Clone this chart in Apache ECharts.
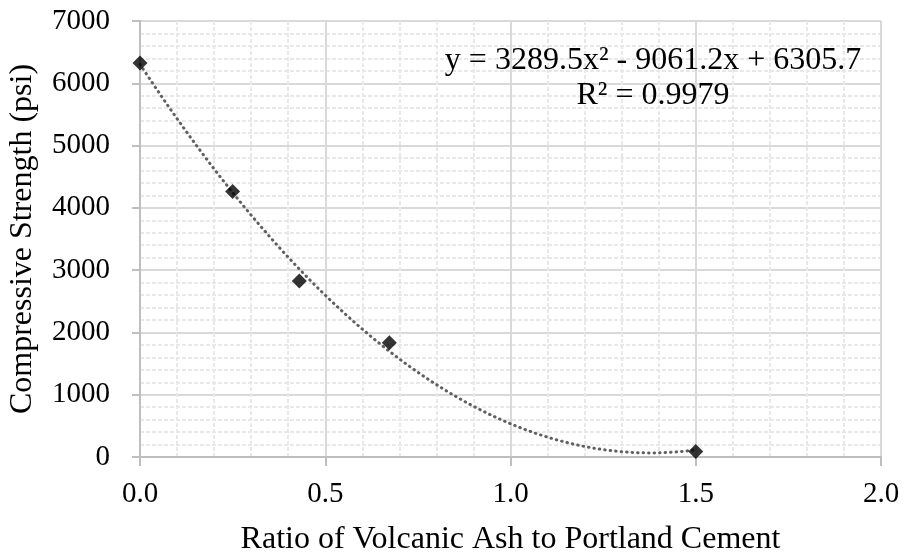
<!DOCTYPE html>
<html><head><meta charset="utf-8">
<script src="https://cdn.jsdelivr.net/npm/echarts@6/dist/echarts.min.js"></script>
<style>html,body{margin:0;padding:0;background:#fff}#c{width:907px;height:557px}</style>
</head><body><div id="c"></div>
<script>
const ratios = [0, 0.25, 0.43, 0.673, 1.5];
const strengths = [6325, 4262, 2826, 1835, 90];
const trendCoeffs = [3289.5, -9061.2, 6305.7]; // a, b, c from the chart's equation
const trendLabel = ['y = 3289.5x² - 9061.2x + 6305.7', 'R² = 0.9979'];
const xTicks = [0, 0.5, 1.0, 1.5, 2.0];
const yTicks = [0, 1000, 2000, 3000, 4000, 5000, 6000, 7000];

const trend = [];
for (let i = 0; i <= 150; i++) {
  const x = i / 100;
  trend.push([x, trendCoeffs[0]*x*x + trendCoeffs[1]*x + trendCoeffs[2]]);
}
const FONT = '"Liberation Serif","Times New Roman",serif';
const chart = echarts.init(document.getElementById('c'));
chart.setOption({
  animation: false,
  grid: {left: 140, right: 26, top: 21, bottom: 100, containLabel: false, outerBoundsMode: 'none'},
  xAxis: {
    type: 'value', min: xTicks[0], max: xTicks[xTicks.length-1], interval: 0.5,
    name: 'Ratio of Volcanic Ash to Portland Cement', nameLocation: 'middle', nameGap: 67,
    nameTextStyle: {fontFamily: FONT, fontSize: 32, color: '#000'},
    axisLine: {show: true, lineStyle: {color: '#bfbfbf', width: 2}},
    axisTick: {show: true, length: 9, lineStyle: {color: '#bfbfbf', width: 2}},
    axisLabel: {fontFamily: FONT, fontSize: 29, color: '#000', margin: 23, formatter: v => v.toFixed(1)},
    splitLine: {show: true, lineStyle: {color: '#d9d9d9', width: 2}},
    minorTick: {show: false, splitNumber: 5},
    minorSplitLine: {show: true, lineStyle: {color: '#e8e8e8', width: 2, type: [4, 2]}}
  },
  yAxis: {
    type: 'value', min: yTicks[0], max: yTicks[yTicks.length-1], interval: 1000,
    name: 'Compressive Strength (psi)', nameLocation: 'middle', nameGap: 101,
    nameTextStyle: {fontFamily: FONT, fontSize: 32, color: '#000'},
    axisLine: {show: true, lineStyle: {color: '#bfbfbf', width: 2}},
    axisTick: {show: true, length: 8, lineStyle: {color: '#bfbfbf', width: 2}},
    axisLabel: {fontFamily: FONT, fontSize: 29, color: '#000', margin: 30, formatter: v => String(v)},
    splitLine: {show: true, lineStyle: {color: '#d9d9d9', width: 2}},
    minorTick: {show: false, splitNumber: 5},
    minorSplitLine: {show: true, lineStyle: {color: '#e8e8e8', width: 2, type: [4, 2]}}
  },
  series: [
    {type: 'line', data: trend, showSymbol: false, smooth: false,
     lineStyle: {color: '#606060', width: 3, type: [0.5, 5], cap: 'round'}, z: 2},
    {type: 'scatter', data: ratios.map((r, i) => [r, strengths[i]]),
     symbol: 'diamond', symbolSize: 15, itemStyle: {color: '#000'}, z: 3}
  ],
  graphic: [
    {type: 'text', x: 653, y: 61, z: 10,
     style: {text: trendLabel[0], fontFamily: FONT, fontSize: 32, fill: '#000', align: 'center', verticalAlign: 'middle'}},
    {type: 'text', x: 653, y: 96, z: 10,
     style: {text: trendLabel[1], fontFamily: FONT, fontSize: 32, fill: '#000', align: 'center', verticalAlign: 'middle'}}
  ]
});
</script></body></html>
